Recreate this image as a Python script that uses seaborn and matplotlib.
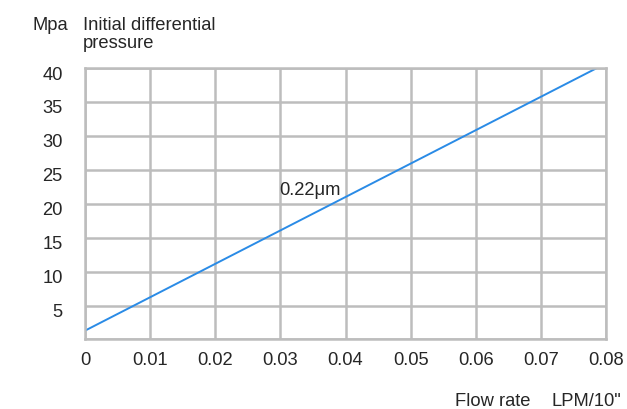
import matplotlib
matplotlib.use("Agg")
import matplotlib.pyplot as plt
import matplotlib.transforms as mtransforms
import seaborn as sns
import pandas as pd

# data
flow_rate = [0.0, 0.0786]
pressure = [1.3, 40.0]
x_ticks = [0, 0.01, 0.02, 0.03, 0.04, 0.05, 0.06, 0.07, 0.08]
x_tick_labels = ["0", "0.01", "0.02", "0.03", "0.04", "0.05", "0.06", "0.07", "0.08"]
y_ticks = [0, 5, 10, 15, 20, 25, 30, 35, 40]
y_tick_labels = ["", "5", "10", "15", "20", "25", "30", "35", "40"]

df = pd.DataFrame({"flow": flow_rate, "pressure": pressure})

sns.set_style("white")
plt.rcParams['font.family'] = ['Liberation Sans', 'DejaVu Sans']

fig = plt.figure(figsize=(6.27, 4.09), dpi=100)
ax = fig.add_axes([0.1356, 0.170, 0.831, 0.6637])

grid_c = "#bdbdbd"
text_c = "#262626"
fs = 13.2

sns.lineplot(data=df, x="flow", y="pressure", ax=ax, color="#2a8be6", linewidth=1.4)

ax.set_xlim(0, 0.08)
ax.set_ylim(0, 40)
ax.set_xticks(x_ticks)
ax.set_xticklabels(x_tick_labels)
ax.set_yticks(y_ticks)
ax.set_yticklabels(y_tick_labels)
ax.grid(True, color=grid_c, linewidth=1.8)
ax.set_axisbelow(True)
for s in ax.spines.values():
    s.set_color(grid_c)
    s.set_linewidth(1.8)
ax.tick_params(length=0, labelsize=fs, colors=text_c, pad=9)
ax.tick_params(axis='y', pad=16)
ax.set_xlabel("")
ax.set_ylabel("")

# y labels sit a bit below their grid lines in the original
shift = mtransforms.ScaledTranslation(0, -5 / 100, fig.dpi_scale_trans)
for lab in ax.get_yticklabels():
    lab.set_transform(lab.get_transform() + shift)

ax.text(0.0392, 22, "0.22μm", fontsize=fs, color=text_c, ha="right", va="center")

fig.text(33 / 627, 1 - 25 / 409, "Mpa", fontsize=fs, color=text_c, va="center")
fig.text(83 / 627, 1 - 25 / 409, "Initial differential", fontsize=fs,
         color=text_c, va="center")
fig.text(83 / 627, 1 - 44 / 409, "pressure", fontsize=fs,
         color=text_c, va="center")
fig.text(455 / 627, 1 - 402 / 409, "Flow rate", fontsize=fs,
         color=text_c, ha="left", va="center")
fig.text(621 / 627, 1 - 402 / 409, "LPM/10\"", fontsize=fs,
         color=text_c, ha="right", va="center")

fig.savefig("out.png", dpi=100)
